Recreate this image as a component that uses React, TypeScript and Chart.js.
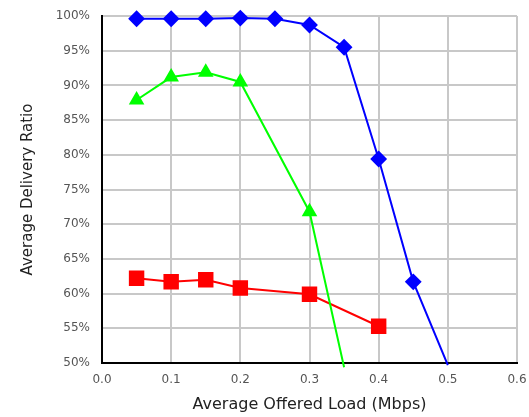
import React, { useEffect, useRef } from "react";
import { Chart, registerables } from "chart.js";

Chart.register(...registerables);

const xTicks = [0, 0.1, 0.2, 0.3, 0.4, 0.5, 0.6];
const yTicks = [50, 55, 60, 65, 70, 75, 80, 85, 90, 95, 100];

const blueX = [0.05, 0.1, 0.15, 0.2, 0.25, 0.3, 0.35, 0.4, 0.45, 0.5];
const blueY = [99.6, 99.6, 99.6, 99.7, 99.6, 98.7, 95.5, 79.4, 61.7, 49.7];

const greenX = [0.05, 0.1, 0.15, 0.2, 0.3, 0.35];
const greenY = [87.9, 91.2, 91.9, 90.5, 71.8, 49.4];

const redX = [0.05, 0.1, 0.15, 0.2, 0.3, 0.4];
const redY = [62.2, 61.7, 62.0, 60.8, 59.9, 55.3];

const toPts = (xs: number[], ys: number[]) => xs.map((x, i) => ({ x, y: ys[i] }));

export default function App() {
  const ref = useRef<HTMLCanvasElement | null>(null);
  useEffect(() => {
    document.body.style.margin = "0";
    const ctx = ref.current!;
    const tickFont = { family: "DejaVu Sans", size: 12 };
    const chart = new Chart(ctx, {
      type: "scatter",
      data: {
        datasets: [
          {
            data: toPts(blueX, blueY),
            showLine: true,
            borderColor: "#0000ff",
            backgroundColor: "#0000ff",
            borderWidth: 2,
            pointStyle: "rectRot",
            pointRadius: blueX.map((_, i) => (i === blueX.length - 1 ? 0 : 7)),
            clip: false as any,
          },
          {
            data: toPts(greenX, greenY),
            showLine: true,
            borderColor: "#00ff00",
            backgroundColor: "#00ff00",
            borderWidth: 2,
            pointStyle: "triangle",
            pointRadius: greenX.map((_, i) => (i === greenX.length - 1 ? 0 : 7)),
            clip: false as any,
          },
          {
            data: toPts(redX, redY),
            showLine: true,
            borderColor: "#ff0000",
            backgroundColor: "#ff0000",
            borderWidth: 2,
            pointStyle: "rect",
            pointRadius: 9.5,
            clip: false as any,
          },
        ],
      },
      options: {
        responsive: false,
        animation: false,
        layout: { padding: { top: 16, right: 0, left: 0, bottom: 0 } },
        plugins: { legend: { display: false }, tooltip: { enabled: false } },
        scales: {
          x: {
            type: "linear",
            min: 0,
            max: 0.6,
            afterBuildTicks: (s: any) => {
              s.ticks = xTicks.map((v) => ({ value: v }));
            },
            afterFit: (s: any) => {
              s.height = 54;
              s.paddingRight = 12;
              s.paddingLeft = 0;
            },
            ticks: {
              font: tickFont,
              color: "#555555",
              padding: 10,
              maxRotation: 0,
              callback: (v: any) => Number(v).toFixed(1),
            },
            grid: { color: "#c8c8c8", lineWidth: 2, drawTicks: false },
            border: { color: "#000000", width: 2 },
            title: {
              display: true,
              text: "Average Offered Load (Mbps)",
              font: { family: "DejaVu Sans", size: 16 },
              color: "#222222",
              padding: { top: 0, bottom: 3 },
            },
          },
          y: {
            type: "linear",
            min: 50,
            max: 100,
            afterBuildTicks: (s: any) => {
              s.ticks = yTicks.map((v) => ({ value: v }));
            },
            afterFit: (s: any) => {
              s.width = 102;
              s.paddingTop = 0;
              s.paddingBottom = 0;
            },
            ticks: {
              font: tickFont,
              color: "#555555",
              padding: 12,
              callback: (v: any) => v + "%",
            },
            grid: { color: "#c8c8c8", lineWidth: 2, drawTicks: false },
            border: { color: "#000000", width: 2 },
            title: {
              display: true,
              text: "Average Delivery Ratio",
              font: { family: "DejaVu Sans", size: 15 },
              color: "#222222",
              padding: { top: 19, bottom: 0 },
            },
          },
        },
      },
    });
    return () => chart.destroy();
  }, []);
  return (
    <div style={{ width: 529, height: 417 }}>
      <canvas ref={ref} width={529} height={417} style={{ display: "block" }} />
    </div>
  );
}
